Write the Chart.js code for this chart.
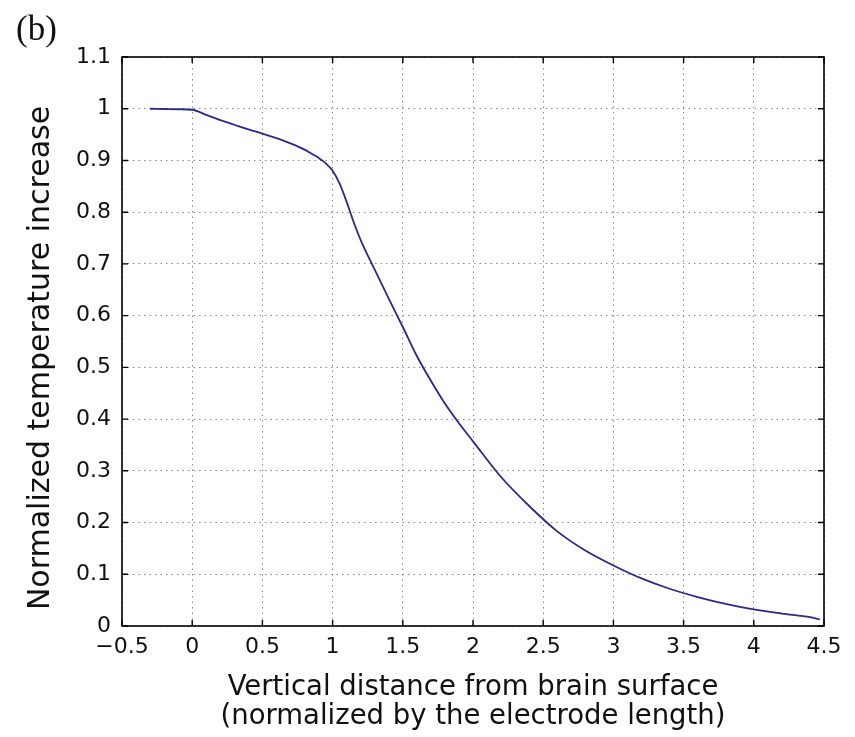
<!DOCTYPE html>
<html>
<head>
<meta charset="utf-8">
<script src="https://cdn.jsdelivr.net/npm/chart.js@4/dist/chart.umd.min.js"></script>
<style>
  html, body { margin: 0; padding: 0; background: #fff; }
  #wrap { width: 855px; height: 737px; }
</style>
</head>
<body>
<div id="wrap"><canvas id="c" width="855" height="737"></canvas></div>
<script>
// distance from brain surface (normalized) and temperature increase (normalized)
const distance = [-0.3, -0.2, -0.1, 0, 0.1, 0.2, 0.3, 0.4, 0.5, 0.6, 0.7, 0.8, 0.85, 0.9, 0.95,
  1.0, 1.05, 1.1, 1.15, 1.2, 1.3, 1.4, 1.5, 1.6, 1.7, 1.8, 1.9, 2.0, 2.2, 2.4, 2.6, 2.8, 3.0, 3.2, 3.4,
  3.6, 3.8, 4.0, 4.2, 4.4, 4.47];
const tempIncrease = [1.0, 0.9995, 0.999, 0.998, 0.988, 0.978, 0.969, 0.960, 0.952, 0.943, 0.933, 0.921, 0.913, 0.905, 0.895,
  0.880, 0.855, 0.820, 0.781, 0.746, 0.689, 0.633, 0.578, 0.522, 0.474, 0.430, 0.392, 0.357, 0.288, 0.232, 0.183, 0.146, 0.117, 0.092, 0.072,
  0.056, 0.043, 0.032, 0.024, 0.017, 0.013];
const xTickLabels = ['\u22120.5', '0', '0.5', '1', '1.5', '2', '2.5', '3', '3.5', '4', '4.5'];
const yTickLabels = ['0', '0.1', '0.2', '0.3', '0.4', '0.5', '0.6', '0.7', '0.8', '0.9', '1', '1.1'];
const yTitle = 'Normalized temperature increase';

const FONT = "'DejaVu Sans', Verdana, sans-serif";

const framePlugin = {
  id: 'frame',
  afterDraw(chart) {
    const { ctx, chartArea: a, scales: { x, y } } = chart;
    ctx.save();
    ctx.strokeStyle = '#000';
    ctx.lineWidth = 1.6;
    ctx.strokeRect(a.left, a.top, a.right - a.left, a.bottom - a.top);
    // inward tick marks on all four sides
    ctx.lineWidth = 1.4;
    ctx.beginPath();
    x.ticks.forEach(t => {
      const px = x.getPixelForValue(t.value);
      ctx.moveTo(px, a.bottom); ctx.lineTo(px, a.bottom - 6);
      ctx.moveTo(px, a.top); ctx.lineTo(px, a.top + 6);
    });
    y.ticks.forEach(t => {
      const py = y.getPixelForValue(t.value);
      ctx.moveTo(a.left, py); ctx.lineTo(a.left + 6, py);
      ctx.moveTo(a.right, py); ctx.lineTo(a.right - 6, py);
    });
    ctx.stroke();
    // panel letter
    ctx.fillStyle = '#111';
    ctx.font = "35px 'Liberation Serif', 'Times New Roman', serif";
    ctx.textBaseline = 'alphabetic';
    ctx.textAlign = 'left';
    ctx.fillText('(b)', 16, 40);
    // y axis title, sits a little below the axis centre in the original
    ctx.translate(41, 358);
    ctx.rotate(-Math.PI / 2);
    ctx.font = '30px ' + FONT;
    ctx.textAlign = 'center';
    ctx.textBaseline = 'middle';
    ctx.fillText(yTitle, 0, 0);
    ctx.restore();
  }
};

new Chart(document.getElementById('c'), {
  type: 'line',
  data: {
    datasets: [{
      data: distance.map((d, i) => ({ x: d, y: tempIncrease[i] })),
      borderColor: '#2a2a88',
      borderWidth: 1.8,
      pointRadius: 0,
      fill: false,
      cubicInterpolationMode: 'monotone'
    }]
  },
  options: {
    responsive: false,
    animation: false,
    layout: { padding: { top: 57, right: 31, bottom: 0, left: 0 } },
    plugins: { legend: { display: false }, tooltip: { enabled: false } },
    scales: {
      x: {
        type: 'linear',
        min: -0.5, max: 4.5,
        afterFit(s) { s.height = 111; },
        grid: { color: '#8a8a8a', lineWidth: 1, drawTicks: false },
        border: { display: false, dash: [1.5, 4] },
        ticks: {
          stepSize: 0.5, padding: 8, color: '#111',
          font: { family: FONT, size: 22 },
          callback: (v, i) => xTickLabels[i]
        },
        title: {
          display: true,
          text: ['Vertical distance from brain surface', '(normalized by the electrode length)'],
          color: '#111',
          font: { family: FONT, size: 27.5, lineHeight: 1.08 },
          padding: { top: 0, bottom: 5 }
        }
      },
      y: {
        min: 0, max: 1.1,
        afterFit(s) { s.width = 122; },
        grid: { color: '#8a8a8a', lineWidth: 1, drawTicks: false },
        border: { display: false, dash: [1.5, 4] },
        ticks: {
          stepSize: 0.1, padding: 11, color: '#111',
          font: { family: FONT, size: 22 },
          callback: (v, i) => yTickLabels[i]
        }
      }
    }
  },
  plugins: [framePlugin]
});
</script>
</body>
</html>
